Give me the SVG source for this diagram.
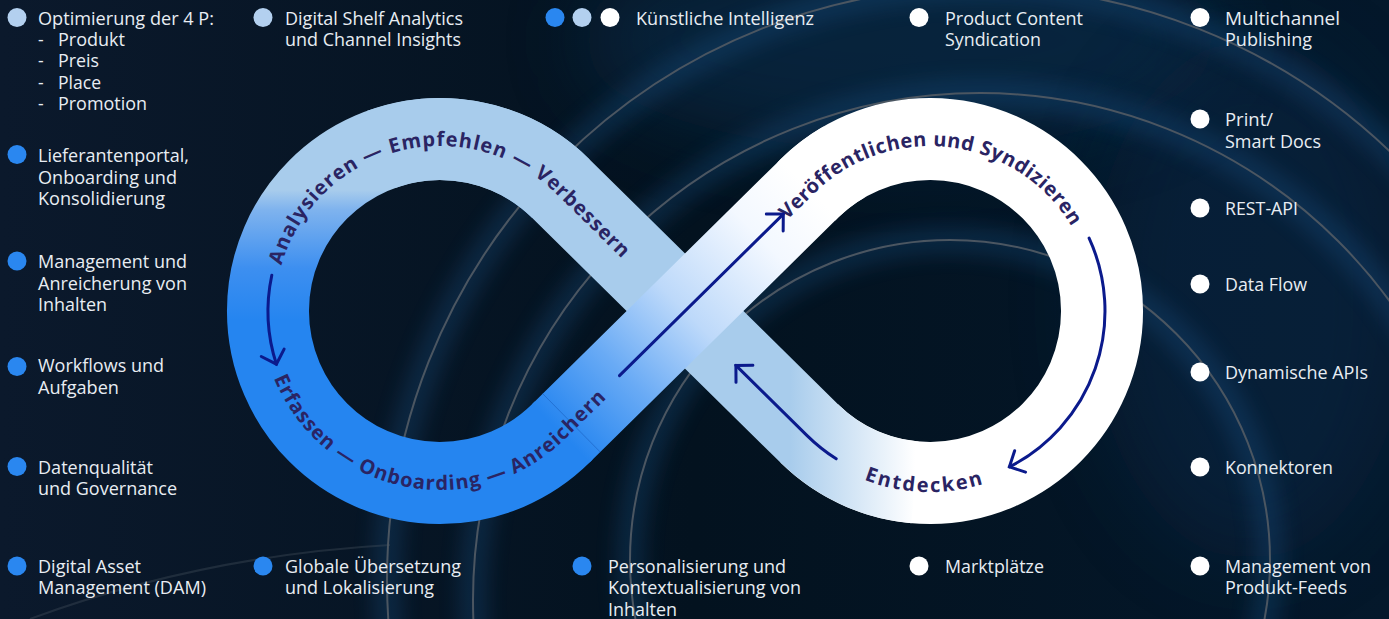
<svg xmlns="http://www.w3.org/2000/svg" width="1389" height="619" viewBox="0 0 1389 619">
<defs>
<style>
.t{font-family:"Open Sans","Noto Sans","Liberation Sans",sans-serif;font-size:17.5px;fill:#e8edf3;}
.lt{font-family:"Open Sans","Noto Sans","Liberation Sans",sans-serif;font-size:20px;font-weight:700;fill:#2a2463;letter-spacing:1px;}
.arc{fill:none;stroke:#4b5661;stroke-width:2;}
.glow{fill:none;stroke:#1b5a92;stroke-width:28;opacity:.28;filter:url(#blur);}
.arr{fill:none;stroke:#0b1a8c;stroke-width:3;stroke-linecap:round;}
.band{fill:none;stroke-width:82;}
.lb{fill:#b3d0ef;}
.bb{fill:#2a87f0;}
.wb{fill:#ffffff;}
</style>
<filter id="blur" x="-20%" y="-20%" width="140%" height="140%"><feGaussianBlur stdDeviation="10"/></filter>
<filter id="blur2" x="-50%" y="-50%" width="200%" height="200%"><feGaussianBlur stdDeviation="40"/></filter>
<linearGradient id="bg" x1="0" y1="0" x2="1" y2="0">
<stop offset="0" stop-color="#0b192c"/><stop offset="0.5" stop-color="#03121f"/><stop offset="1" stop-color="#04182b"/>
</linearGradient>
<linearGradient id="gL" gradientUnits="userSpaceOnUse" x1="0" y1="190" x2="0" y2="320">
<stop offset="0" stop-color="#a8ccec"/><stop offset="0.15" stop-color="#7fb3ee"/><stop offset="0.6" stop-color="#3d8ff0"/><stop offset="1" stop-color="#2585f0"/>
</linearGradient>
<linearGradient id="gA" gradientUnits="userSpaceOnUse" x1="560.8" y1="433.4" x2="809.2" y2="188.6">
<stop offset="0" stop-color="#2585f0"/><stop offset="0.25" stop-color="#6aabf5"/><stop offset="0.5" stop-color="#bdd9fa"/><stop offset="0.8" stop-color="#f3f8ff"/><stop offset="1" stop-color="#ffffff"/>
</linearGradient>
<linearGradient id="gD" gradientUnits="userSpaceOnUse" x1="790" y1="0" x2="915" y2="0">
<stop offset="0" stop-color="#a8ccec"/><stop offset="1" stop-color="#ffffff"/>
</linearGradient>
<marker id="ah" viewBox="-16 -14 19 28" refX="0" refY="0" markerWidth="19" markerHeight="28" markerUnits="userSpaceOnUse" orient="auto">
<path d="M-12,-12 L0,0 L-12,12" fill="none" stroke="#0b1a8c" stroke-width="3" stroke-linecap="round"/>
</marker>
<path id="pA" d="M281.4,265.5 A165,165 0 0 1 555.9,193.5 L662.7,298.8"/>
<path id="pB" d="M274,378.1 A179,179 0 0 0 565.7,438.4 L672.5,333.1"/>
<path id="pC" d="M785.6,221.7 L814.1,193.6 A165,165 0 0 1 1085,254.6"/>
<path id="pD" d="M839.5,467.8 A181,181 0 0 0 1020.5,467.8"/>
</defs>

<g id="background">
<rect width="1389" height="619" fill="url(#bg)"/>
<ellipse cx="900" cy="40" rx="320" ry="110" fill="#0d3a62" opacity="0.4" filter="url(#blur2)"/>
<ellipse cx="1250" cy="300" rx="160" ry="260" fill="#0b2f52" opacity="0.35" filter="url(#blur2)"/>
<circle class="glow" cx="980" cy="580" r="593"/>
<circle class="glow" cx="980" cy="600" r="507"/>
<circle class="glow" cx="950" cy="560" r="320"/>
<circle class="arc" cx="980" cy="580" r="593"/>
<circle class="arc" cx="980" cy="600" r="507"/>
<circle class="arc" cx="950" cy="560" r="320"/>
<path class="arc" d="M30,619 Q200,556 390,545" opacity="0.35"/>
</g>

<g id="infinity">
<path class="band" stroke="url(#gL)" d="M560.8,188.6 A172,172 0 1 0 560.8,433.4 L563.6,430.6"/>
<path class="band" stroke="#ffffff" d="M806.4,191.4 L809.2,188.6 A172,172 0 1 1 809.2,433.4"/>
<path class="band" stroke="url(#gD)" d="M381.2,149.4 A172,172 0 0 1 560.8,188.6 L809.2,433.4 A172,172 0 0 0 915,482.3"/>
<path class="band" stroke="url(#gA)" d="M560.8,433.4 L809.2,188.6 A172,172 0 0 1 844,162"/>
<line x1="542.7" y1="393.7" x2="600.3" y2="452.1" stroke="#1a5fbf" stroke-width="1" opacity="0.6"/>
</g>

<g id="loop-labels">
<text class="lt"><textPath href="#pA">Analysieren — Empfehlen — Verbessern</textPath></text>
<text class="lt"><textPath href="#pB">Erfassen — Onboarding — Anreichern</textPath></text>
<text class="lt" style="letter-spacing:0.5px"><textPath href="#pC" startOffset="2">Veröffentlichen und Syndizieren</textPath></text>
<text class="lt" style="letter-spacing:2px" text-anchor="middle"><textPath href="#pD" startOffset="47%">Entdecken</textPath></text>
</g>

<g id="connectors">
<path class="arr" marker-end="url(#ah)" d="M271.8,275.2 A172,172 0 0 0 276.4,364.2"/>
<path class="arr" marker-end="url(#ah)" d="M619.5,375.6 L783.3,214.1"/>
<path class="arr" marker-end="url(#ah)" d="M1089.1,238.1 A175,175 0 0 1 1009.4,466.9"/>
<path class="arr" marker-end="url(#ah)" d="M836.2,458.8 A175,175 0 0 1 807.1,435.6 L735.9,365.4"/>
</g>

<g id="n-4p">
<circle class="lb" cx="17" cy="17.5" r="9.5"/>
<text class="t" x="38" y="25" textLength="176" lengthAdjust="spacingAndGlyphs">Optimierung der 4 P:</text>
<text class="t" x="38" y="46">-</text><text class="t" x="58" y="46" textLength="67" lengthAdjust="spacingAndGlyphs">Produkt</text>
<text class="t" x="38" y="67">-</text><text class="t" x="58" y="67" textLength="41" lengthAdjust="spacingAndGlyphs">Preis</text>
<text class="t" x="38" y="88.5">-</text><text class="t" x="58" y="88.5" textLength="43" lengthAdjust="spacingAndGlyphs">Place</text>
<text class="t" x="38" y="110">-</text><text class="t" x="58" y="110" textLength="89" lengthAdjust="spacingAndGlyphs">Promotion</text>
</g>
<g id="n-lieferant">
<circle class="bb" cx="17" cy="154.5" r="9.5"/>
<text class="t" x="38" y="162" textLength="151" lengthAdjust="spacingAndGlyphs">Lieferantenportal,</text>
<text class="t" x="38" y="183.5" textLength="139" lengthAdjust="spacingAndGlyphs">Onboarding und</text>
<text class="t" x="38" y="205" textLength="127" lengthAdjust="spacingAndGlyphs">Konsolidierung</text>
</g>
<g id="n-management">
<circle class="bb" cx="17" cy="261" r="9.5"/>
<text class="t" x="38" y="268" textLength="149" lengthAdjust="spacingAndGlyphs">Management und</text>
<text class="t" x="38" y="289.5" textLength="149" lengthAdjust="spacingAndGlyphs">Anreicherung von</text>
<text class="t" x="38" y="311" textLength="69" lengthAdjust="spacingAndGlyphs">Inhalten</text>
</g>
<g id="n-workflows">
<circle class="bb" cx="17" cy="366.5" r="9.5"/>
<text class="t" x="38" y="372" textLength="126" lengthAdjust="spacingAndGlyphs">Workflows und</text>
<text class="t" x="38" y="393.5" textLength="81" lengthAdjust="spacingAndGlyphs">Aufgaben</text>
</g>
<g id="n-datenqualitaet">
<circle class="bb" cx="17" cy="466.5" r="9.5"/>
<text class="t" x="38" y="473.5" textLength="115" lengthAdjust="spacingAndGlyphs">Datenqualität</text>
<text class="t" x="38" y="495" textLength="139" lengthAdjust="spacingAndGlyphs">und Governance</text>
</g>
<g id="n-dam">
<circle class="bb" cx="17" cy="566" r="9.5"/>
<text class="t" x="38" y="572.5" textLength="103" lengthAdjust="spacingAndGlyphs">Digital Asset</text>
<text class="t" x="38" y="594" textLength="168" lengthAdjust="spacingAndGlyphs">Management (DAM)</text>
</g>
<g id="n-shelf">
<circle class="lb" cx="263" cy="17.5" r="9.5"/>
<text class="t" x="285" y="25" textLength="178" lengthAdjust="spacingAndGlyphs">Digital Shelf Analytics</text>
<text class="t" x="285" y="46" textLength="176" lengthAdjust="spacingAndGlyphs">und Channel Insights</text>
</g>
<g id="n-uebersetzung">
<circle class="bb" cx="263" cy="566" r="9.5"/>
<text class="t" x="285" y="572.5" textLength="176" lengthAdjust="spacingAndGlyphs">Globale Übersetzung</text>
<text class="t" x="285" y="594" textLength="149" lengthAdjust="spacingAndGlyphs">und Lokalisierung</text>
</g>
<g id="n-ki">
<circle class="bb" cx="555" cy="17.5" r="9.5"/>
<circle class="lb" cx="582" cy="17.5" r="9.5"/>
<circle class="wb" cx="610" cy="17.5" r="9.5"/>
<text class="t" x="636" y="25" textLength="178" lengthAdjust="spacingAndGlyphs">Künstliche Intelligenz</text>
</g>
<g id="n-personalisierung">
<circle class="bb" cx="582" cy="566" r="9.5"/>
<text class="t" x="608" y="572.5" textLength="178" lengthAdjust="spacingAndGlyphs">Personalisierung und</text>
<text class="t" x="608" y="594" textLength="193" lengthAdjust="spacingAndGlyphs">Kontextualisierung von</text>
<text class="t" x="608" y="615.5" textLength="69" lengthAdjust="spacingAndGlyphs">Inhalten</text>
</g>
<g id="n-pcs">
<circle class="wb" cx="919" cy="17.5" r="9.5"/>
<text class="t" x="945" y="25" textLength="138" lengthAdjust="spacingAndGlyphs">Product Content</text>
<text class="t" x="945" y="46" textLength="96" lengthAdjust="spacingAndGlyphs">Syndication</text>
</g>
<g id="n-marktplaetze">
<circle class="wb" cx="919" cy="566" r="9.5"/>
<text class="t" x="945" y="572.5" textLength="99" lengthAdjust="spacingAndGlyphs">Marktplätze</text>
</g>
<g id="n-multichannel">
<circle class="wb" cx="1200" cy="17.5" r="9.5"/>
<text class="t" x="1225" y="25" textLength="115" lengthAdjust="spacingAndGlyphs">Multichannel</text>
<text class="t" x="1225" y="46" textLength="87" lengthAdjust="spacingAndGlyphs">Publishing</text>
</g>
<g id="n-print">
<circle class="wb" cx="1200" cy="119" r="9.5"/>
<text class="t" x="1225" y="126" textLength="48" lengthAdjust="spacingAndGlyphs">Print/</text>
<text class="t" x="1225" y="147.5" textLength="96" lengthAdjust="spacingAndGlyphs">Smart Docs</text>
</g>
<g id="n-rest">
<circle class="wb" cx="1200" cy="208" r="9.5"/>
<text class="t" x="1225" y="215" textLength="73" lengthAdjust="spacingAndGlyphs">REST-API</text>
</g>
<g id="n-dataflow">
<circle class="wb" cx="1200" cy="284" r="9.5"/>
<text class="t" x="1225" y="291" textLength="82" lengthAdjust="spacingAndGlyphs">Data Flow</text>
</g>
<g id="n-dynapis">
<circle class="wb" cx="1200" cy="372" r="9.5"/>
<text class="t" x="1225" y="379" textLength="143" lengthAdjust="spacingAndGlyphs">Dynamische APIs</text>
</g>
<g id="n-konnektoren">
<circle class="wb" cx="1200" cy="467" r="9.5"/>
<text class="t" x="1225" y="474" textLength="108" lengthAdjust="spacingAndGlyphs">Konnektoren</text>
</g>
<g id="n-feeds">
<circle class="wb" cx="1200" cy="566" r="9.5"/>
<text class="t" x="1225" y="572.5" textLength="146" lengthAdjust="spacingAndGlyphs">Management von</text>
<text class="t" x="1225" y="594" textLength="122" lengthAdjust="spacingAndGlyphs">Produkt-Feeds</text>
</g>
</svg>
